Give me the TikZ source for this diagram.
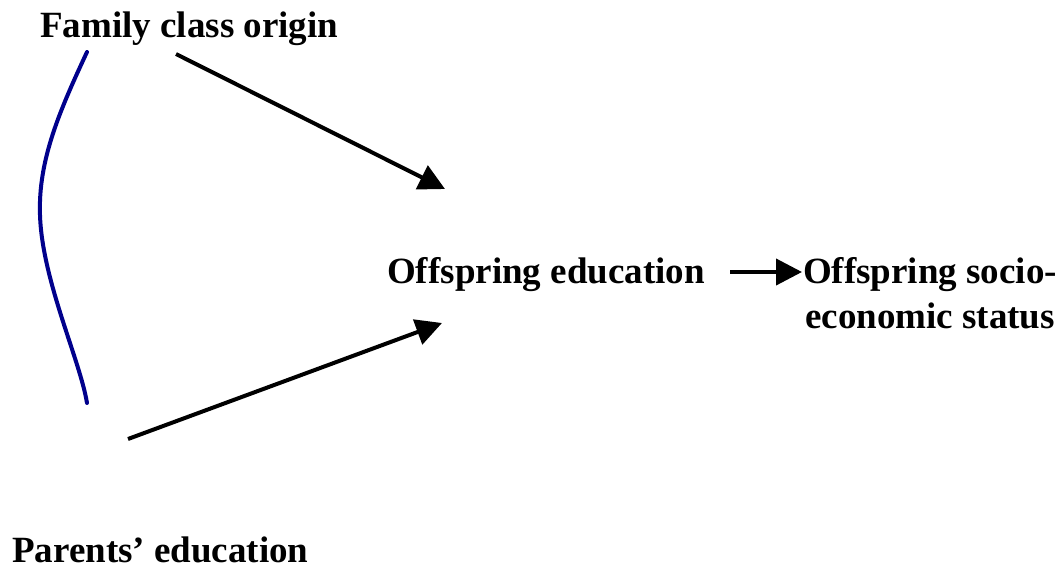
\documentclass[tikz,border=0pt]{standalone}
\usepackage{fontspec}
\setmainfont{Liberation Serif}
\usetikzlibrary{arrows.meta}
\definecolor{linkblue}{RGB}{0,0,140}
\tikzset{
  lbl/.style={font=\bfseries\fontsize{37}{45}\selectfont, inner sep=0pt},
  arr/.style={line width=4pt, -{Triangle[length=26pt,width=26pt]}},
  link/.style={draw=linkblue, line width=4pt, line cap=round}
}
\begin{document}
\begin{tikzpicture}[x=1pt,y=-1pt]
  \useasboundingbox (0,0) rectangle (1064,570);
  % variables
  \node[lbl, anchor=base west] (family) at (40,37) {Family class origin};
  \node[lbl, anchor=base west] (parents) at (12,562) {Parents' education};
  \node[lbl, anchor=base west] (offedu) at (387,283) {Offspring education};
  \node[lbl, anchor=base, align=center] (offses) at (930,328) {Offspring socio-\\economic status};
  % arrow ends
  \coordinate (famout) at (176,54);
  \coordinate (eduin1) at (445,189);
  \coordinate (parout) at (128,439);
  \coordinate (eduin2) at (442,323);
  \coordinate (eduout) at (730,272);
  \coordinate (sesin) at (802,272);
  \coordinate (linktop) at (87,52);
  \coordinate (linkbot) at (87,403);
  % paths
  \draw[arr] (famout) -- (eduin1);
  \draw[arr] (parout) -- (eduin2);
  \draw[arr] (eduout) -- (sesin);
  \draw[link] (linktop) .. controls (60,110) and (38,160) .. (40,215)
    .. controls (42,280) and (80,360) .. (linkbot);
\end{tikzpicture}
\end{document}
